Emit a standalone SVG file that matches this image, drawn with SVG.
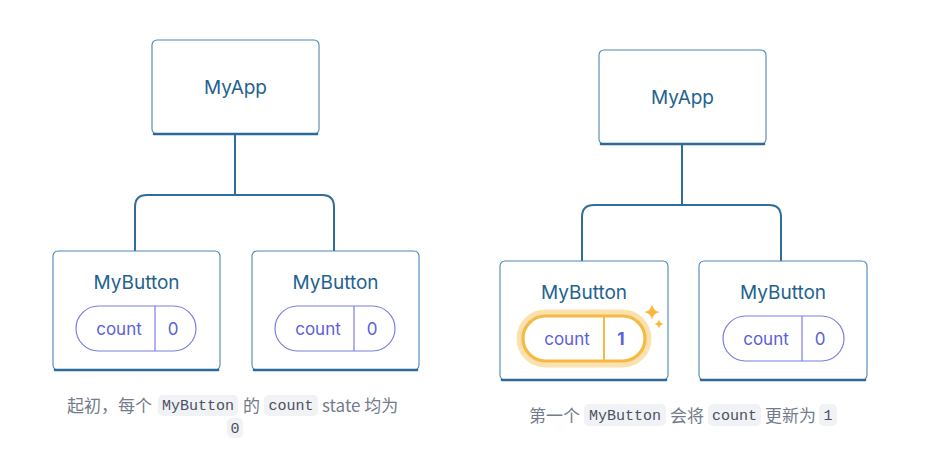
<svg xmlns="http://www.w3.org/2000/svg" width="935" height="476" viewBox="0 0 935 476">
<style>
.box{fill:#fff;stroke:#4a86b3;stroke-width:1.1}
.bot{fill:none;stroke:#2c6a99;stroke-width:2.6;stroke-linecap:round}
.name{font-family:Inter,"Noto Sans",sans-serif;font-size:19px;fill:#23628f;text-anchor:middle;font-weight:400}
.pill{fill:#fff;stroke:#7a7fe0;stroke-width:1.2}
.div{stroke:#7a7fe0;stroke-width:1.2}
.ptx{font-family:Inter,"Noto Sans",sans-serif;font-size:17px;fill:#5b61d6;text-anchor:middle}
.con{fill:none;stroke:#2f6e9b;stroke-width:2}
.cap{font-family:"Noto Sans CJK SC","Noto Sans",sans-serif;font-size:17px;fill:#737b8c}
.code{fill:#f1f2f5}
.mono{font-family:"Liberation Mono","DejaVu Sans Mono",monospace;font-size:15px;fill:#4b5160;text-anchor:middle}
</style>
<g id="connectors">
<path class="con" d="M235 135 V195 M147 195 H322 Q334 195 334 207 V251 M147 195 Q135 195 135 207 V251"/>
<path class="con" d="M682 145 V205 M594 205 H769 Q781 205 781 217 V261 M594 205 Q582 205 582 217 V261"/>
</g>
<g id="myapp1">
<rect class="box" x="152" y="40" width="167" height="94" rx="5"/>
<path class="bot" d="M154 134 H317"/>
<text class="name" x="235.5" y="94">MyApp</text>
</g>
<g id="mybutton1a">
<rect class="box" x="53" y="251" width="167" height="119" rx="5"/>
<path class="bot" d="M55 370 H218"/>
<text class="name" x="136.5" y="289">MyButton</text>
<rect class="pill" x="76" y="306" width="120" height="45" rx="22.5"/>
<line class="div" x1="155" y1="306" x2="155" y2="351"/>
<text class="ptx" x="119" y="335">count</text>
<text class="ptx" x="173" y="335">0</text>
</g>
<g id="mybutton1b">
<rect class="box" x="252" y="251" width="167" height="119" rx="5"/>
<path class="bot" d="M254 370 H417"/>
<text class="name" x="335.5" y="289">MyButton</text>
<rect class="pill" x="275" y="306" width="120" height="45" rx="22.5"/>
<line class="div" x1="354" y1="306" x2="354" y2="351"/>
<text class="ptx" x="318" y="335">count</text>
<text class="ptx" x="372" y="335">0</text>
</g>
<g id="myapp2">
<rect class="box" x="599" y="50" width="167" height="94" rx="5"/>
<path class="bot" d="M601 144 H764"/>
<text class="name" x="682.5" y="104">MyApp</text>
</g>
<g id="mybutton2a">
<rect class="box" x="500" y="261" width="168" height="119" rx="5"/>
<path class="bot" d="M502 380 H666"/>
<text class="name" x="584" y="299">MyButton</text>
<rect x="520" y="313" width="128" height="51" rx="25.5" fill="none" stroke="#fbe1ad" stroke-width="7"/>
<rect x="523" y="316" width="122" height="45" rx="22.5" fill="#fff" stroke="#f5b944" stroke-width="3.2"/>
<line x1="604" y1="316" x2="604" y2="361" stroke="#f5b944" stroke-width="2"/>
<text class="ptx" x="567" y="345">count</text>
<text class="ptx" x="621" y="345" font-weight="700" fill="#4f55c9">1</text>
<path d="M652 304 Q653 311 660 312 Q653 313 652 320 Q651 313 644 312 Q651 311 652 304 Z" fill="#f6b93f"/>
<path d="M659 319 Q659.6 323.4 664 324 Q659.6 324.6 659 329 Q658.4 324.6 654 324 Q658.4 323.4 659 319 Z" fill="#f6b93f"/>
</g>
<g id="mybutton2b">
<rect class="box" x="699" y="261" width="168" height="119" rx="5"/>
<path class="bot" d="M701 380 H865"/>
<text class="name" x="783" y="299">MyButton</text>
<rect class="pill" x="723" y="316" width="121" height="45" rx="22.5"/>
<line class="div" x1="802" y1="316" x2="802" y2="361"/>
<text class="ptx" x="766" y="345">count</text>
<text class="ptx" x="820" y="345">0</text>
</g>
<g id="caption1">
<text class="cap" x="67" y="412">起初，每个</text>
<rect class="code" x="158" y="395" width="80" height="21" rx="5"/>
<text class="mono" x="198" y="410">MyButton</text>
<text class="cap" x="243" y="412">的</text>
<rect class="code" x="264" y="395" width="54" height="21" rx="5"/>
<text class="mono" x="291" y="410">count</text>
<text class="cap" x="322" y="412">state 均为</text>
<rect class="code" x="227" y="418" width="16" height="20" rx="5"/>
<text class="mono" x="235" y="433">0</text>
</g>
<g id="caption2">
<text class="cap" x="529" y="422">第一个</text>
<rect class="code" x="584" y="404" width="82" height="22" rx="5"/>
<text class="mono" x="625" y="420">MyButton</text>
<text class="cap" x="670" y="422">会将</text>
<rect class="code" x="708" y="404" width="53" height="22" rx="5"/>
<text class="mono" x="734.5" y="420">count</text>
<text class="cap" x="765" y="422">更新为</text>
<rect class="code" x="819" y="404" width="18" height="22" rx="5"/>
<text class="mono" x="828" y="420">1</text>
</g>
</svg>
